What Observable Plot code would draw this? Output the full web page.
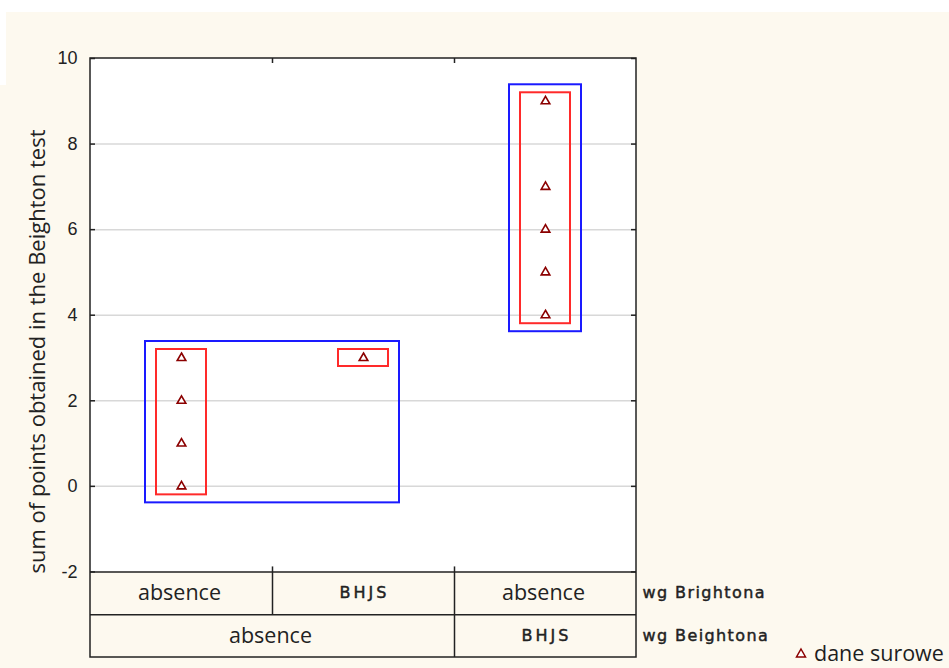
<!DOCTYPE html>
<html><head><meta charset="utf-8">
<script src="https://cdn.jsdelivr.net/npm/d3@7"></script>
<script src="https://cdn.jsdelivr.net/npm/@observablehq/plot@0.6"></script>
<style>
html,body{margin:0;padding:0;background:#fff;}
#wrap{position:relative;width:949px;height:668px;overflow:hidden;}
#bg{position:absolute;left:6px;top:12px;right:0;bottom:0;background:#fdf9ef;}
#bg2{position:absolute;left:0;top:85px;width:6px;bottom:0;background:#fdf9ef;}
#chart{position:absolute;left:0;top:0;}
#chart svg{background:transparent;overflow:visible;}
#legend{position:absolute;left:795px;top:641px;font-family:"Open Sans";font-size:21.5px;color:#1e1e1e;display:flex;align-items:center;gap:7px;line-height:24px;}
</style></head><body>
<div id="wrap"><div id="bg"></div><div id="bg2"></div><div id="chart"></div>
<div id="legend"><svg width="12" height="12"><polygon points="6,2 10.5,10 1.5,10" fill="white" stroke="#8b0000" stroke-width="1.5"/></svg><span id="legendText"></span></div></div>
<script>
// ---- data ----
const yTicks = [-2, 0, 2, 4, 6, 8, 10];
const gridValues = [0, 2, 4, 6, 8];
const brightonLabels = ["absence", "BHJS", "absence"];   // wg Brightona (per column)
const beightonLabels = ["absence", "absence", "BHJS"];   // wg Beightona (per column)
const rawValues = [[0, 1, 2, 3], [3], [4, 5, 6, 7, 9]];  // dane surowe
const factorNames = ["wg Brightona", "wg Beightona"];
const yTitle = "sum of points obtained in the Beighton test";
const legendLabel = "dane surowe";

document.getElementById("legendText").textContent = legendLabel;

// ---- derived ----
const nCols = brightonLabels.length;
const yMin = d3.min(yTicks), yMax = d3.max(yTicks);
const points = rawValues.flatMap((vals, i) => vals.map(v => ({x: i + 0.5, v})));
const cols = brightonLabels.map((lab, i) => ({i, lab, min: d3.min(rawValues[i]), max: d3.max(rawValues[i])}));
const spans = [];
beightonLabels.forEach((lab, i) => {
  const last = spans[spans.length - 1];
  if (last && last.lab === lab) { last.end = i + 1; last.vals.push(...rawValues[i]); }
  else spans.push({lab, start: i, end: i + 1, vals: [...rawValues[i]]});
});
const colBounds = d3.range(1, nCols);
const spanBounds = spans.slice(1).map(s => s.start);
const ink = "#222";
const isCode = d => d.lab === d.lab.toUpperCase();
const tableLabels = [
  ...cols.map(d => ({lab: d.lab, x: d.i + 0.5, row: 0})),
  ...spans.map(s => ({lab: s.lab, x: (s.start + s.end) / 2, row: 1}))
];
const codeLabels = new Set(tableLabels.filter(isCode).map(d => d.lab));

const chart = Plot.plot({
  width: 949, height: 668,
  marginLeft: 90, marginRight: 313, marginTop: 58, marginBottom: 11,
  x: {domain: [0, nCols], axis: null},
  y: {domain: [yMin - 2, yMax], axis: null},
  style: {background: "transparent"},
  marks: [
    Plot.rect([0], {x1: 0, x2: nCols, y1: yMin, y2: yMax, fill: "white"}),
    Plot.ruleY(gridValues, {x1: 0, x2: nCols, stroke: "#d8d8d8", strokeWidth: 1.5}),
    Plot.ruleY(yTicks, {x1: 0, x2: 0, insetRight: -5, stroke: ink, strokeWidth: 1.5}),
    Plot.ruleY(yTicks, {x1: nCols, x2: nCols, insetLeft: -5, stroke: ink, strokeWidth: 1.5}),
    Plot.ruleX(colBounds, {y1: yMax, y2: yMax, insetBottom: -5, stroke: ink, strokeWidth: 1.5}),
    Plot.ruleX(colBounds, {y1: yMin, y2: yMin - 1, insetTop: -5, stroke: ink, strokeWidth: 1.5}),
    Plot.ruleX(spanBounds, {y1: yMin - 1, y2: yMin - 2, stroke: ink, strokeWidth: 1.5}),
    Plot.ruleY([yMin, yMin - 1], {x1: 0, x2: nCols, stroke: ink, strokeWidth: 1.5}),
    Plot.rect([0], {x1: 0, x2: nCols, y1: yMin - 2, y2: yMax, fill: "none", stroke: ink, strokeWidth: 1.5}),
    // group boxes (wg Beightona)
    Plot.rect(spans, {x1: s => s.start + 0.5, x2: s => s.end - 0.5, y1: s => d3.min(s.vals), y2: s => d3.max(s.vals),
      insetLeft: -36, insetRight: -36, insetTop: -16.5, insetBottom: -16.5, fill: "none", stroke: "#1a1aff", strokeWidth: 2}),
    // cell boxes (wg Brightona)
    Plot.rect(cols, {x1: d => d.i + 0.5, x2: d => d.i + 0.5, y1: "min", y2: "max",
      insetLeft: -25, insetRight: -25, insetTop: -8.5, insetBottom: -8.5, fill: "none", stroke: "#ff2a2a", strokeWidth: 2}),
    Plot.dot(points, {x: "x", y: "v", symbol: "triangle", r: 3.2, fill: "white", stroke: "#8b0000", strokeWidth: 1.6}),
    // y tick labels
    Plot.text(yTicks, {x: 0, y: d => d, text: d => String(d), textAnchor: "end", dx: -13, fontSize: 18, fontFamily: "Liberation Sans", fill: ink}),
    // table labels
    Plot.text(tableLabels, {filter: d => !isCode(d), x: "x", y: d => yMin - 0.5 - d.row, dx: -2, text: "lab", fontSize: 21.5, fontFamily: "Open Sans", fill: ink}),
    Plot.text(tableLabels, {filter: isCode, x: "x", y: d => yMin - 0.5 - d.row, text: "lab", dx: 1, fontSize: 16, fontFamily: "DejaVu Sans", fill: ink, stroke: ink, strokeWidth: 0.45}),
    Plot.text(factorNames, {x: nCols, y: (d, i) => yMin - 0.5 - i, text: d => d, textAnchor: "start", dx: 6, fontSize: 16, fontFamily: "DejaVu Sans", fill: ink, stroke: ink, strokeWidth: 0.45}),
    // y title
    Plot.text([yTitle], {frameAnchor: "left", text: d => d, rotate: -90, textAnchor: "middle", dx: -53, dy: -6.5, fontSize: 22, fontFamily: "Open Sans", fill: ink})
  ]
});
// letter-spaced label styling (as in the original Statistica rendering)
chart.querySelectorAll("text").forEach(t => {
  if (factorNames.includes(t.textContent)) t.style.letterSpacing = "1.4px";
  else if (codeLabels.has(t.textContent)) t.style.letterSpacing = "3px";
});
document.getElementById("chart").appendChild(chart);
</script>
</body></html>
